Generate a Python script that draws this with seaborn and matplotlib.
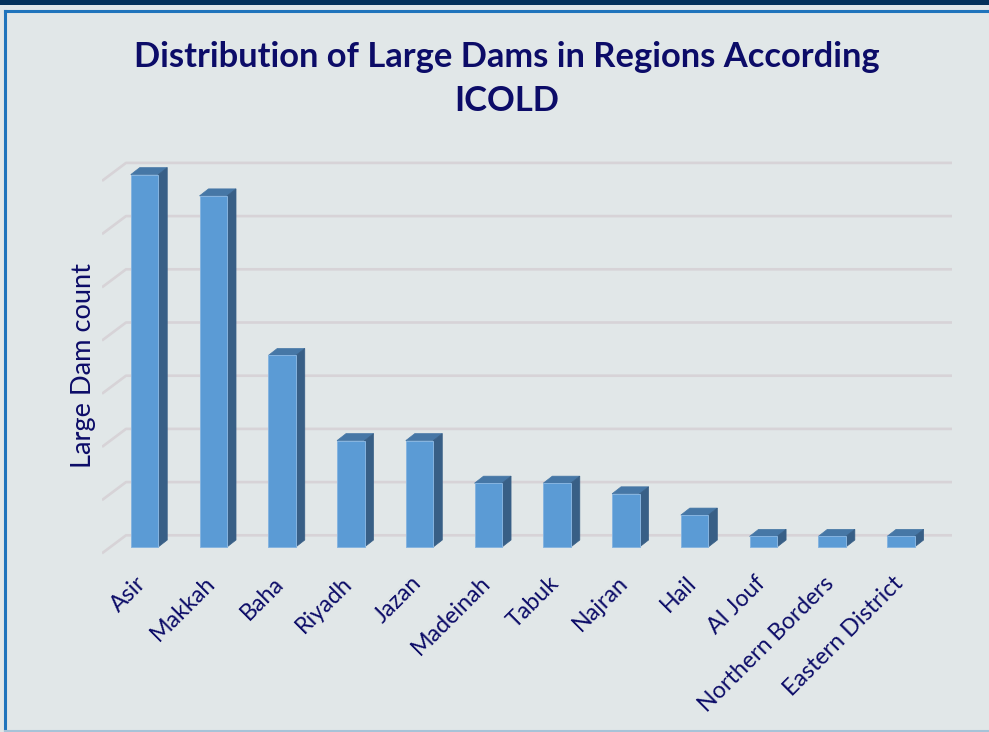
import numpy as np
import pandas as pd
import seaborn as sns
import matplotlib
import matplotlib.pyplot as plt
import matplotlib.transforms as mtransforms
from matplotlib.patches import Polygon, Rectangle
from matplotlib.lines import Line2D
from matplotlib.textpath import TextPath
from matplotlib.font_manager import FontProperties

# ---- data -----------------------------------------------------------------
regions = ["Asir", "Makkah", "Baha", "Riyadh", "Jazan", "Madeinah", "Tabuk",
           "Najran", "Hail", "Al Jouf", "Northern Borders", "Eastern District"]
dam_counts = [70, 66, 36, 20, 20, 12, 12, 10, 6, 2, 2, 2]
grid_values = [0, 10, 20, 30, 40, 50, 60, 70]

title_text = "Distribution of Large Dams in Regions According\nICOLD"
ylabel_text = "Large Dam count"

# ---- styling ----------------------------------------------------------------
W, H, DPI = 989, 732, 100
BG = "#E1E7E8"
NAVY = "#0C0C68"
FRONT = "#5B9BD5"
SIDE = "#385F86"
TOP = "#4677A6"
EDGE = "#86B4E0"
GRID = "#D7D3D7"
FONT = "Lato"

df = pd.DataFrame({"region": regions, "dams": dam_counts})


def text_px(s, size_pt, weight="normal"):
    fp = FontProperties(family=FONT, weight=weight)
    return TextPath((0, 0), s, prop=fp, size=size_pt).get_extents().width * DPI / 72


def fit_size(s, target_px, weight="normal"):
    return 20 * target_px / text_px(s, 20, weight)


fig = plt.figure(figsize=(W / DPI, H / DPI), dpi=DPI)
fig.patch.set_facecolor(BG)

# outer frame decoration
fig.add_artist(Rectangle((0, 1 - 5 / H), 1, 5 / H, transform=fig.transFigure,
                         facecolor="#04315A", edgecolor="none", zorder=0))
fig.add_artist(Line2D([5 / W, 1], [1 - 11 / H, 1 - 11 / H], transform=fig.transFigure,
                      color="#1F74BC", lw=2.2, zorder=1))
fig.add_artist(Line2D([5 / W, 5 / W], [0, 1 - 11 / H], transform=fig.transFigure,
                      color="#1F74BC", lw=2.2, zorder=1))
fig.add_artist(Line2D([5 / W, 1], [0.6 / H, 0.6 / H], transform=fig.transFigure,
                      color="#A7C3D8", lw=1.5, zorder=1))

# plotting box (front face coordinates)
left_px, right_px, top_px, bot_px = 102, 952, 150, 560
ax = fig.add_axes([left_px / W, 1 - bot_px / H, (right_px - left_px) / W,
                   (bot_px - top_px) / H])
ax.set_facecolor("none")

x0_px, step_px = 144.5, 68.76       # first category centre, category pitch
base_px, unit_px = 547.0, 5.32      # zero line, pixels per dam
xl = (left_px - x0_px) / step_px
xr = (right_px - x0_px) / step_px
yb = (base_px - bot_px) / unit_px
yt = (base_px - top_px) / unit_px

sx, sy = step_px, unit_px
bar_dx, bar_dy = 9 / sx, 7 / sy              # bar depth
wall_dx, wall_dy = 15.6 / sx, 11.7 / sy      # back wall behind bar faces
floor_dx, floor_dy = -8.4 / sx, -6.3 / sy    # front edge of the floor

# perspective gridlines: slanted on the side wall, flat on the back wall
for v in grid_values:
    ax.plot([xl, xl + 24 / sx, xr],
            [v + floor_dy, v + wall_dy, v + wall_dy],
            color=GRID, lw=1.9, solid_capstyle="butt", zorder=0.5)

sns.barplot(data=df, x="region", y="dams", color=FRONT, saturation=1,
            width=0.4, edgecolor=EDGE, linewidth=0.7, ax=ax, zorder=3)

# extrude each bar into a box
for p in list(ax.patches):
    bx, bw, bh = p.get_x(), p.get_width(), p.get_height()
    top = Polygon([(bx, bh), (bx + bw, bh), (bx + bw + bar_dx, bh + bar_dy),
                   (bx + bar_dx, bh + bar_dy)], closed=True,
                  facecolor=TOP, edgecolor=TOP, lw=0.5, zorder=2.9)
    side = Polygon([(bx + bw, 0), (bx + bw + bar_dx, bar_dy),
                    (bx + bw + bar_dx, bh + bar_dy), (bx + bw, bh)], closed=True,
                   facecolor=SIDE, edgecolor=SIDE, lw=0.5, zorder=2.9)
    ax.add_patch(top)
    ax.add_patch(side)

ax.set_xlim(xl, xr)
ax.set_ylim(yb, yt)

for s in ax.spines.values():
    s.set_visible(False)
ax.set_yticks([])
ax.set_xlabel("")
ax.set_ylabel("")

tick_fs = fit_size("Northern Borders", 178)
ax.tick_params(axis="x", length=0, pad=9, labelsize=tick_fs, labelcolor=NAVY)
shift = mtransforms.ScaledTranslation(-9 / DPI, 0, fig.dpi_scale_trans)
for lab in ax.get_xticklabels():
    lab.set_rotation(45)
    lab.set_ha("right")
    lab.set_va("top")
    lab.set_rotation_mode("anchor")
    lab.set_fontfamily(FONT)
    lab.set_transform(lab.get_transform() + shift)

# title and axis label
title_fs = fit_size("Distribution of Large Dams in Regions According", 742, "bold")
fig.text(507 / W, 1 - 79 / H, title_text, ha="center", va="center",
         fontsize=title_fs, fontweight="bold", color=NAVY, family=FONT,
         linespacing=1.45)

ylab_fs = fit_size(ylabel_text, 203)
fig.text(83 / W, 1 - 366 / H, ylabel_text, rotation=90, ha="center", va="center",
         fontsize=ylab_fs, color=NAVY, family=FONT)

fig.savefig("out.png", dpi=DPI, facecolor=BG)
